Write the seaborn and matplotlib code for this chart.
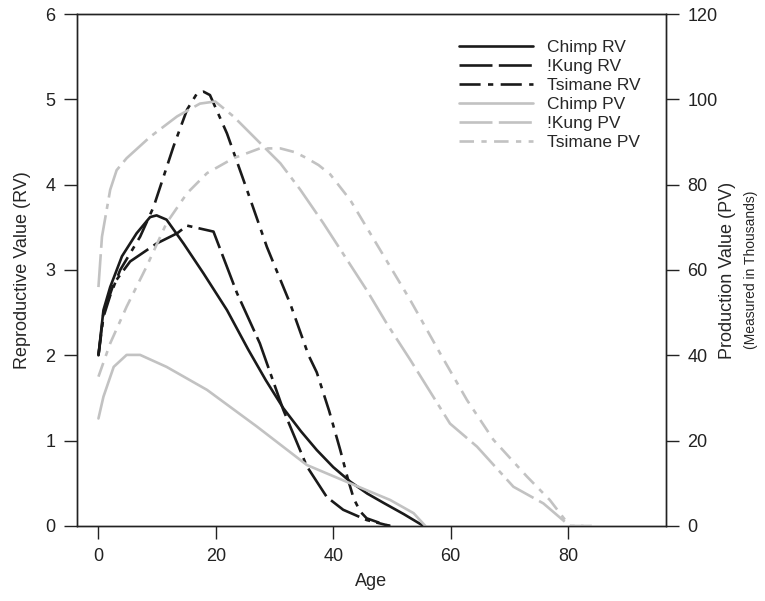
import numpy as np
import pandas as pd
import matplotlib
matplotlib.use("Agg")
import matplotlib.pyplot as plt
import seaborn as sns

# values
chimp_rv_age = [0, 0.85, 2, 4, 6.5, 8.8, 9.9, 11.6, 14.5, 17.9, 21.9, 25.5, 28.5, 31.5, 34.5, 37.2, 40, 42.9, 45.8, 48.6, 52, 55.4]
chimp_rv = [2.0, 2.53, 2.80, 3.16, 3.43, 3.62, 3.64, 3.59, 3.31, 2.96, 2.53, 2.07, 1.71, 1.38, 1.11, 0.89, 0.69, 0.52, 0.38, 0.27, 0.14, 0.0]

kung_rv_age = [0, 0.85, 2.6, 5.4, 9.9, 13.4, 15.1, 19.6, 23.6, 27.5, 31.5, 35.5, 38.9, 41.7, 45.7, 49.7]
kung_rv = [2.0, 2.49, 2.84, 3.10, 3.31, 3.43, 3.52, 3.45, 2.73, 2.14, 1.36, 0.70, 0.34, 0.19, 0.07, 0.0]

tsimane_rv_age = [0, 0.85, 2, 3.7, 7.1, 9.4, 12.8, 15.1, 16.8, 17.9, 19.0, 21.9, 25.3, 28.7, 32.7, 35.8, 37.2, 39.3, 41.2, 42.5, 43.5, 44.6, 45.7, 48.6, 49.7]
tsimane_rv = [2.0, 2.45, 2.7, 3.0, 3.39, 3.74, 4.45, 4.88, 5.07, 5.09, 5.05, 4.60, 3.94, 3.27, 2.6, 2.0, 1.8, 1.35, 0.89, 0.55, 0.32, 0.17, 0.09, 0.02, 0.0]

chimp_pv_age = [0, 0.85, 2.6, 4.8, 7.1, 11.6, 18.5, 27, 35.5, 42.9, 49.7, 53.7, 55.7]
chimp_pv = [25.2, 30.3, 37.3, 40.1, 40.1, 37.3, 31.9, 23.3, 14.3, 10, 6.1, 3, 0]

kung_pv_age = [0, 0.6, 2, 3.1, 4.8, 8.8, 13.4, 17.3, 19.9, 23, 27, 31, 34.4, 38.3, 42.4, 45.7, 49.1, 53.1, 59.9, 64.5, 70.7, 75.8, 79.8, 80.3, 84]
kung_pv = [56, 67.8, 78.8, 83.4, 86.2, 91.2, 96, 99, 99.5, 96, 90.5, 85, 78.8, 71, 62.3, 55.3, 47.5, 39, 24, 18.6, 9.2, 5.3, 0.6, 0, 0]

tsimane_pv_age = [0, 2, 4.8, 8.2, 11.6, 15.1, 18.5, 23, 27.5, 31, 33.5, 35.5, 37.5, 39.5, 42.9, 46.3, 49.7, 53.1, 56, 58.2, 62.8, 67.3, 73, 76.9, 80.3, 84]
tsimane_pv = [35, 42.8, 51.4, 60.8, 71, 78, 82.7, 86.2, 88.5, 88.5, 87.6, 86.2, 84.6, 82.4, 76.4, 68.6, 60.8, 53, 45.9, 40.5, 29.5, 20.2, 11.6, 6.1, 0, 0]

sns.set_style("ticks")
plt.rcParams['font.family'] = ['Liberation Sans', 'DejaVu Sans']

BLACK = "#1a1a1a"
GREY = "#c2c2c2"

fig = plt.figure(figsize=(7.65, 6.01), dpi=100)
ax = fig.add_axes([0.1003, 0.1248, 0.7703, 0.8519])
ax2 = ax.twinx()

def draw(a, age, vals, color, dashes, label):
    d = pd.DataFrame({"Age": age, "val": vals})
    sns.lineplot(data=d, x="Age", y="val", ax=a, color=color, linewidth=1.9,
                 estimator=None, sort=False, label=label, legend=False)
    line = a.lines[-1]
    if dashes:
        line.set_dashes(dashes)
    return line

h = []
h.append(draw(ax, chimp_rv_age, chimp_rv, BLACK, None, "Chimp RV"))
h.append(draw(ax, kung_rv_age, kung_rv, BLACK, (12.5, 2.4, 12.5, 2.4, 2, 2.4), "!Kung RV"))
h.append(draw(ax, tsimane_rv_age, tsimane_rv, BLACK, (8, 2.8, 2, 2.8), "Tsimane RV"))
h.append(draw(ax2, chimp_pv_age, chimp_pv, GREY, None, "Chimp PV"))
h.append(draw(ax2, kung_pv_age, kung_pv, GREY, (12.5, 2.4, 12.5, 2.4, 2, 2.4), "!Kung PV"))
h.append(draw(ax2, tsimane_pv_age, tsimane_pv, GREY, (5.5, 2.8, 2, 2.8), "Tsimane PV"))

ax.set_xlim(-3.7, 96.7)
ax.set_ylim(0, 6)
ax2.set_ylim(0, 120)
ax.set_xticks([0, 20, 40, 60, 80])
ax.set_yticks(range(0, 7))
ax2.set_yticks(range(0, 121, 20))

for a in (ax, ax2):
    a.tick_params(direction="out", length=9.5, width=1.0, labelsize=13, pad=6, colors="#222222")
    for s in a.spines.values():
        s.set_visible(True)
        s.set_linewidth(1.0)
        s.set_color("#222222")

ax.set_xlabel("Age", fontsize=13, labelpad=6)
ax.set_ylabel("Reproductive Value (RV)", fontsize=13, labelpad=10)
ax2.set_ylabel("")
fig.text(0.951, 0.5505, "Production Value (PV)", rotation=90, fontsize=13,
         ha="center", va="center")
fig.text(0.982, 0.5505, "(Measured in Thousands)", rotation=90, fontsize=10,
         ha="center", va="center")

ax2.legend(handles=h, labels=[l.get_label() for l in h], loc="upper right",
           bbox_to_anchor=(0.975, 0.969), frameon=False, fontsize=12.5,
           handlelength=4.3, handletextpad=0.8, labelspacing=0.22, borderaxespad=0.2)

fig.savefig("out.png", dpi=100)
